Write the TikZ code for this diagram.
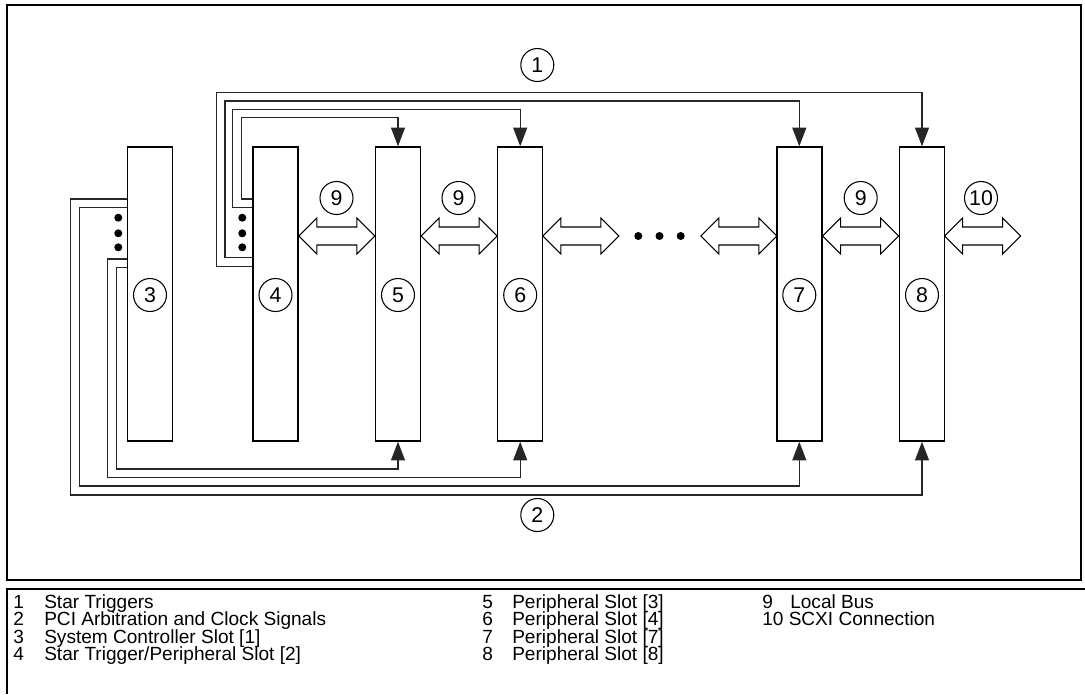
\documentclass[tikz,border=0pt]{standalone}
\usepackage{fontspec}
\setmainfont{Liberation Sans}
\usetikzlibrary{arrows.meta}
\begin{document}
\begin{tikzpicture}[x=0.75pt,y=-0.75pt,
  slot/.style={draw,line width=1.1pt,minimum width=33.75pt,minimum height=220.5pt,inner sep=0pt},
  num/.style={circle,draw,line width=0.8pt,minimum size=24.75pt,inner sep=0pt,font=\fontsize{16}{16}\selectfont},
  wire/.style={line width=0.8pt,black!85},
  tip/.style={-{Triangle[length=14pt,width=10.5pt]}},
  dotmark/.style={circle,fill,inner sep=0pt,minimum size=6pt},
  legend/.style={anchor=base west,inner sep=0pt,font=\fontsize{14.3}{15}\selectfont},
  pics/bus/.style={code={\draw[line width=0.8pt,fill=white] (-38,0) -- (-20,-18) -- (-20,-9) -- (20,-9) -- (20,-18) -- (38,0) -- (20,18) -- (20,9) -- (-20,9) -- (-20,18) -- cycle;}}]
\useasboundingbox (0,0) rectangle (1085,694);
% frames
\draw[line width=2pt] (7,5) rectangle (1081,580);
\draw[line width=2pt] (1085,589) -- (7,589) -- (7,694);
% slots
\node[slot] (s3) at (150,294) {};
\node[slot] (s4) at (275.5,294) {};
\node[slot] (s5) at (398,294) {};
\node[slot] (s6) at (520.2,294) {};
\node[slot] (s7) at (799.3,294) {};
\node[slot] (s8) at (922,294) {};
\node[num] (n3) at (150,295) {3};
\node[num] (n4) at (275.5,295) {4};
\node[num] (n5) at (398,295) {5};
\node[num] (n6) at (520.2,295) {6};
\node[num] (n7) at (799.3,295) {7};
\node[num] (n8) at (922,295) {8};
% local bus arrows
\pic at (336.8,236) {bus};
\pic at (459.2,236) {bus};
\pic at (580.8,236) {bus};
\pic at (738.8,236) {bus};
\pic at (860.6,236) {bus};
\pic at (982.7,236) {bus};
\node[num] (l1) at (336.5,198) {9};
\node[num] (l2) at (458.5,198) {9};
\node[num] (l3) at (860.7,198) {9};
\node[num] (l4) at (981,198) {10};
% middle dots
\node[dotmark] (m1) at (638.3,236) {};
\node[dotmark] (m2) at (659.5,236) {};
\node[dotmark] (m3) at (680.7,236) {};
% star triggers
\coordinate (t1a) at (241.7,199);   \coordinate (t1b) at (241.7,117.7);
\coordinate (t2a) at (232.7,207.7); \coordinate (t2b) at (232.7,109.3);
\coordinate (t3a) at (225,257.7);   \coordinate (t3b) at (225,101);
\coordinate (t4a) at (216.7,266.7); \coordinate (t4b) at (216.7,92.3);
\draw[wire,tip] (s4.west |- t1a) -- (t1a) -- (t1b) -| (s5.north);
\draw[wire,tip] (s4.west |- t2a) -- (t2a) -- (t2b) -| (s6.north);
\draw[wire,tip] (s4.west |- t3a) -- (t3a) -- (t3b) -| (s7.north);
\draw[wire,tip] (s4.west |- t4a) -- (t4a) -- (t4b) -| (s8.north);
\node[dotmark] (d1) at (242.3,217.7) {};
\node[dotmark] (d2) at (242.3,233.3) {};
\node[dotmark] (d3) at (242.3,247.3) {};
% PCI arbitration and clock
\coordinate (b1a) at (70.7,199);   \coordinate (b1b) at (70.7,495);
\coordinate (b2a) at (79.3,207.7); \coordinate (b2b) at (79.3,486);
\coordinate (b3a) at (107.7,259);  \coordinate (b3b) at (107.7,477.7);
\coordinate (b4a) at (116.7,267.7);\coordinate (b4b) at (116.7,469);
\draw[wire,tip] (s3.west |- b1a) -- (b1a) -- (b1b) -| (s8.south);
\draw[wire,tip] (s3.west |- b2a) -- (b2a) -- (b2b) -| (s7.south);
\draw[wire,tip] (s3.west |- b3a) -- (b3a) -- (b3b) -| (s6.south);
\draw[wire,tip] (s3.west |- b4a) -- (b4a) -- (b4b) -| (s5.south);
\node[dotmark] (e1) at (118.3,217.7) {};
\node[dotmark] (e2) at (118.3,233.3) {};
\node[dotmark] (e3) at (118.3,247.3) {};
% callouts
\node[num] (c1) at (537.3,65) {1};
\node[num] (c2) at (537.3,515) {2};
% legend
\node[legend] at (13,608) {1};
\node[legend] at (44,608) {Star Triggers};
\node[legend] at (13,625.5) {2};
\node[legend] at (44,625.5) {PCI Arbitration and Clock Signals};
\node[legend] at (13,643) {3};
\node[legend] at (44,643) {System Controller Slot [1]};
\node[legend] at (13,660.5) {4};
\node[legend] at (44,660.5) {Star Trigger/Peripheral Slot [2]};
\node[legend] at (482,608) {5};
\node[legend] at (512,608) {Peripheral Slot [3]};
\node[legend] at (482,625.5) {6};
\node[legend] at (512,625.5) {Peripheral Slot [4]};
\node[legend] at (482,643) {7};
\node[legend] at (512,643) {Peripheral Slot [7]};
\node[legend] at (482,660.5) {8};
\node[legend] at (512,660.5) {Peripheral Slot [8]};
\node[legend] at (762,608) {9};
\node[legend] at (790,608) {Local Bus};
\node[legend] at (762,625.5) {10 SCXI Connection};
\end{tikzpicture}
\end{document}
